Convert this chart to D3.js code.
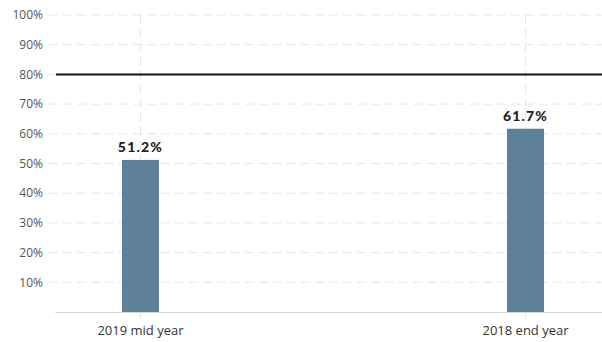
<!DOCTYPE html>
<html><head><meta charset="utf-8">
<script src="https://cdn.jsdelivr.net/npm/d3@7"></script>
<style>body{margin:0;background:#fff}svg{display:block}</style>
</head><body>
<svg id="c" width="602" height="342"></svg>
<script>
const categories = ["2019 mid year", "2018 end year"];
const values = [51.2, 61.7];
const valueLabels = ["51.2%", "61.7%"];
const yTicks = [10, 20, 30, 40, 50, 60, 70, 80, 90, 100];
const targetValue = 80;

(function () {
const svg = d3.select("#c");
const mLeft = 55, mRight = 602, mTop = 15, mBottom = 312;
const y = d3.scaleLinear().domain([0, 100]).range([mBottom, mTop]);
const x = d3.scalePoint().domain(categories).range([mLeft, 611]).padding(0.222);
const barW = 37;

// horizontal grid
svg.append("g").selectAll("line").data(yTicks).join("line")
  .attr("x1", 49).attr("x2", mRight).attr("y1", d => y(d)).attr("y2", d => y(d))
  .attr("stroke", "#e6e6e6").attr("stroke-width", 1).attr("stroke-dasharray", "9,5");
// vertical grid
svg.append("g").selectAll("line").data(categories).join("line")
  .attr("x1", d => x(d)).attr("x2", d => x(d)).attr("y1", mTop).attr("y2", mBottom + 6)
  .attr("stroke", "#e6e6e6").attr("stroke-width", 1).attr("stroke-dasharray", "9,5");

// y tick labels
svg.append("g").selectAll("text").data(yTicks).join("text")
  .attr("x", 43).attr("y", d => y(d)).attr("dy", "0.35em").attr("text-anchor", "end")
  .attr("font-family", "Open Sans, sans-serif").attr("font-size", 12).attr("fill", "#555")
  .text(d => d + "%");

// baseline
svg.append("line").attr("x1", mLeft).attr("x2", mRight).attr("y1", mBottom + 0.5).attr("y2", mBottom + 0.5)
  .attr("stroke", "#d8d8d8").attr("stroke-width", 1);

// bars
svg.append("g").selectAll("rect").data(values).join("rect")
  .attr("x", (d, i) => x(categories[i]) - barW / 2).attr("width", barW)
  .attr("y", d => y(d)).attr("height", d => mBottom - y(d))
  .attr("fill", "#5e8099");

// value labels
svg.append("g").selectAll("text").data(values).join("text")
  .attr("x", (d, i) => x(categories[i])).attr("y", d => y(d) - 8).attr("text-anchor", "middle")
  .attr("font-family", "Lato, sans-serif").attr("font-weight", 900).attr("font-size", 14)
  .attr("letter-spacing", "1.2").attr("fill", "#222")
  .text((d, i) => valueLabels[i]);

// target line
svg.append("line").attr("x1", 56).attr("x2", mRight).attr("y1", y(targetValue)).attr("y2", y(targetValue))
  .attr("stroke", "#111").attr("stroke-width", 2);

// x labels
svg.append("g").selectAll("text").data(categories).join("text")
  .attr("x", d => x(d)).attr("y", 335).attr("text-anchor", "middle")
  .attr("font-family", "Open Sans, sans-serif").attr("font-size", 13).attr("fill", "#333")
  .text(d => d);
})();
</script>
</body></html>
